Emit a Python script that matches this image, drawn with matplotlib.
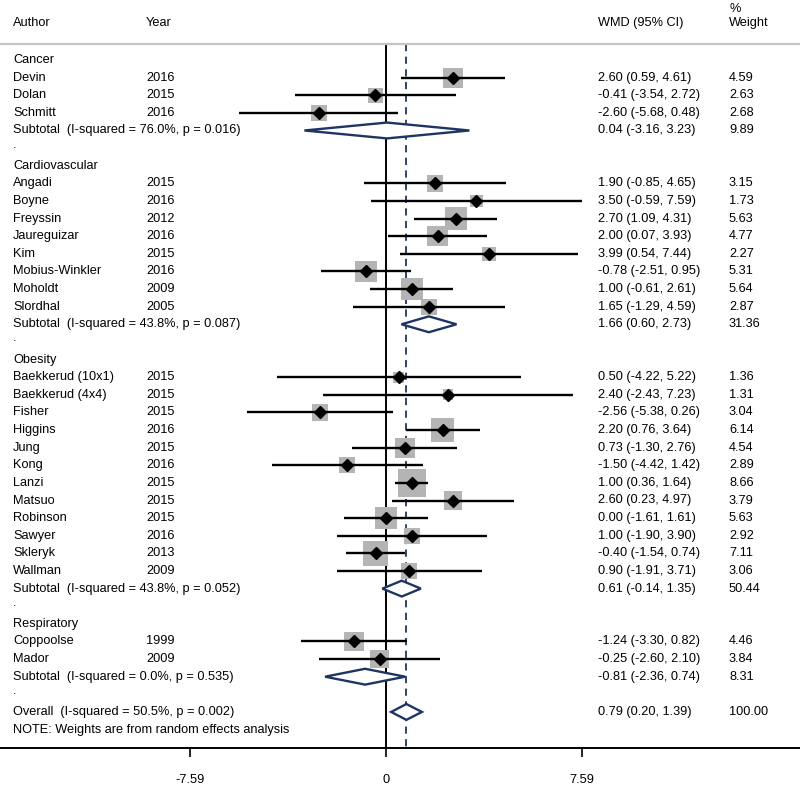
import matplotlib.pyplot as plt
from matplotlib.patches import Rectangle, Polygon
import numpy as np

plt.rcParams['font.family'] = ['Liberation Sans', 'DejaVu Sans']

# study rows: (group, author, year, wmd, lo, hi, weight)
groups = ["Cancer", "Cardiovascular", "Obesity", "Respiratory"]

authors = [
    ["Devin", "Dolan", "Schmitt"],
    ["Angadi", "Boyne", "Freyssin", "Jaureguizar", "Kim", "Mobius-Winkler", "Moholdt", "Slordhal"],
    ["Baekkerud (10x1)", "Baekkerud (4x4)", "Fisher", "Higgins", "Jung", "Kong", "Lanzi",
     "Matsuo", "Robinson", "Sawyer", "Skleryk", "Wallman"],
    ["Coppoolse", "Mador"],
]
years = [
    [2016, 2015, 2016],
    [2015, 2016, 2012, 2016, 2015, 2016, 2009, 2005],
    [2015, 2015, 2015, 2016, 2015, 2016, 2015, 2015, 2015, 2016, 2013, 2009],
    [1999, 2009],
]
wmd = [
    [2.60, -0.41, -2.60],
    [1.90, 3.50, 2.70, 2.00, 3.99, -0.78, 1.00, 1.65],
    [0.50, 2.40, -2.56, 2.20, 0.73, -1.50, 1.00, 2.60, 0.00, 1.00, -0.40, 0.90],
    [-1.24, -0.25],
]
ci_lo = [
    [0.59, -3.54, -5.68],
    [-0.85, -0.59, 1.09, 0.07, 0.54, -2.51, -0.61, -1.29],
    [-4.22, -2.43, -5.38, 0.76, -1.30, -4.42, 0.36, 0.23, -1.61, -1.90, -1.54, -1.91],
    [-3.30, -2.60],
]
ci_hi = [
    [4.61, 2.72, 0.48],
    [4.65, 7.59, 4.31, 3.93, 7.44, 0.95, 2.61, 4.59],
    [5.22, 7.23, 0.26, 3.64, 2.76, 1.42, 1.64, 4.97, 1.61, 3.90, 0.74, 3.71],
    [0.82, 2.10],
]
weights = [
    [4.59, 2.63, 2.68],
    [3.15, 1.73, 5.63, 4.77, 2.27, 5.31, 5.64, 2.87],
    [1.36, 1.31, 3.04, 6.14, 4.54, 2.89, 8.66, 3.79, 5.63, 2.92, 7.11, 3.06],
    [4.46, 3.84],
]
sub_i2 = ["76.0%", "43.8%", "43.8%", "0.0%"]
sub_p = ["0.016", "0.087", "0.052", "0.535"]
sub_est = [0.04, 1.66, 0.61, -0.81]
sub_lo = [-3.16, 0.60, -0.14, -2.36]
sub_hi = [3.23, 2.73, 1.35, 0.74]
sub_w = [9.89, 31.36, 50.44, 8.31]

overall = (0.79, 0.20, 1.39)
overall_i2, overall_p = "50.5%", "0.002"
tick_vals = [-7.59, 0, 7.59]

W, H = 800, 785
fig = plt.figure(figsize=(W / 100, H / 100), dpi=100)
ax = fig.add_axes([0, 0, 1, 1])

px_per_x = 196 / 7.59          # pixels per WMD unit
x0_px = 386
row_px = 17.62
row0_px = 60
ax.set_xlim(-x0_px / px_per_x, (W - x0_px) / px_per_x)
ax.set_ylim((H - row0_px) / row_px, -row0_px / row_px)

navy = "#1e3563"
box_gray = "#b4b4b4"
fs = 9.2
col_author, col_year, col_wmd, col_w = 13 / W, 146 / W, 598 / W, 729 / W
tr = ax.get_yaxis_transform()  # x in axes frac, y in data


def txt(xf, y, s, **kw):
    ax.text(xf, y, s, transform=tr, fontsize=fs, va="center", ha="left", **kw)


def diamond(y, est, lo, hi):
    h = 0.45
    pts = [(lo, y), (est, y - h), (hi, y), (est, y + h)]
    ax.add_patch(Polygon(pts, closed=True, facecolor="white", edgecolor=navy, lw=1.7, zorder=4))


# headers
txt(col_author, -2.1, "Author")
txt(col_year, -2.1, "Year")
txt(col_wmd, -2.1, "WMD (95% CI)")
txt(col_w, -2.1, "Weight")
txt(col_w, -2.9, "%")

sep_y = -0.92
axis_y = 39.04
ax.axhline(sep_y, color="#c4c4c4", lw=1.6)

row = 0
for g in range(len(groups)):
    txt(col_author, row, groups[g])
    row += 1
    for i in range(len(authors[g])):
        txt(col_author, row, authors[g][i])
        txt(col_year, row, str(years[g][i]))
        txt(col_wmd, row, f"{wmd[g][i]:.2f} ({ci_lo[g][i]:.2f}, {ci_hi[g][i]:.2f})")
        txt(col_w, row, f"{weights[g][i]:.2f}")
        ax.plot([ci_lo[g][i], ci_hi[g][i]], [row, row], color="black", lw=1.7, zorder=3,
                solid_capstyle="butt")
        side = 9.4 * np.sqrt(weights[g][i])
        bw, bh = side / px_per_x, side / row_px
        ax.add_patch(Rectangle((wmd[g][i] - bw / 2, row - bh / 2), bw, bh,
                               facecolor=box_gray, edgecolor="none", zorder=2))
        ax.plot(wmd[g][i], row, marker="D", color="black", markersize=6, zorder=5)
        row += 1
    txt(col_author, row, f"Subtotal  (I-squared = {sub_i2[g]}, p = {sub_p[g]})")
    txt(col_wmd, row, f"{sub_est[g]:.2f} ({sub_lo[g]:.2f}, {sub_hi[g]:.2f})")
    txt(col_w, row, f"{sub_w[g]:.2f}")
    diamond(row, sub_est[g], sub_lo[g], sub_hi[g])
    row += 1
    txt(col_author, row - 0.2, ".")
    row += 1

txt(col_author, row, f"Overall  (I-squared = {overall_i2}, p = {overall_p})")
txt(col_wmd, row, f"{overall[0]:.2f} ({overall[1]:.2f}, {overall[2]:.2f})")
txt(col_w, row, "100.00")
diamond(row, *overall)
row += 1
txt(col_author, row, "NOTE: Weights are from random effects analysis")

# reference lines
ax.plot([0, 0], [sep_y, axis_y], color="black", lw=1.4, zorder=1)
ax.plot([overall[0]] * 2, [sep_y, axis_y], color=navy, lw=1.3, ls=(0, (4, 3)), zorder=1)

# bottom axis
for s in ["top", "left", "right"]:
    ax.spines[s].set_visible(False)
ax.spines["bottom"].set_position(("data", axis_y))
ax.spines["bottom"].set_linewidth(1.4)
ax.set_yticks([])
ax.set_xticks(tick_vals)
ax.set_xticklabels(["-7.59", "0", "7.59"], fontsize=fs)
ax.tick_params(axis="x", direction="out", length=6.5, width=1.2, pad=12)

fig.savefig("out.png", dpi=100)
